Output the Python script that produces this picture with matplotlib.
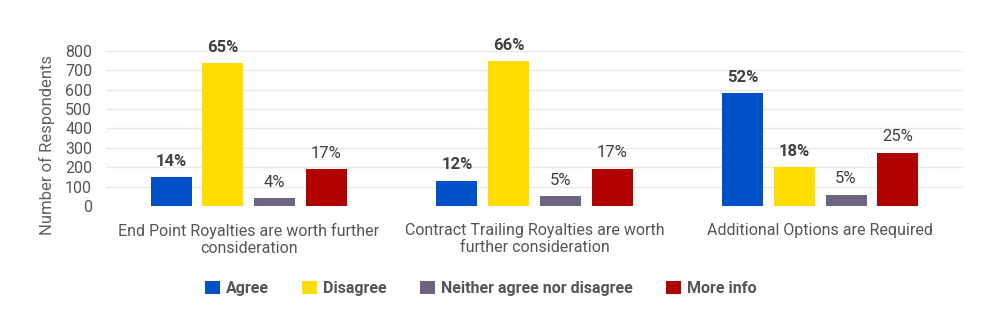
import numpy as np
import matplotlib.pyplot as plt

# Data
categories = ['End Point Royalties are worth further\nconsideration',
              'Contract Trailing Royalties are worth\nfurther consideration',
              'Additional Options are Required']
series = ['Agree', 'Disagree', 'Neither agree nor disagree', 'More info']
agree = [150, 130, 583]
disagree = [737, 745, 200]
neither = [40, 50, 58]
more_info = [190, 193, 275]
pct_agree = ['14%', '12%', '52%']
pct_disagree = ['65%', '66%', '18%']
pct_neither = ['4%', '5%', '5%']
pct_more = ['17%', '17%', '25%']

colors = ['#0050C8', '#FFDD00', '#6E6480', '#B00000']
values = [agree, disagree, neither, more_info]
pcts = [pct_agree, pct_disagree, pct_neither, pct_more]
weights = ['bold', 'bold', 'normal', 'normal']

plt.rcParams['font.family'] = ['Roboto', 'DejaVu Sans']
text_color = '#404040'
label_color = '#555555'

fig = plt.figure(figsize=(10, 3.3), dpi=100)
ax = fig.add_axes([0.106, 0.376, 0.857, 0.47])

x = np.arange(len(categories))
pitch = 0.181
width = 0.1436
for i, (vals, lab, col) in enumerate(zip(values, series, colors)):
    pos = x + (i - 1.5) * pitch
    bars = ax.bar(pos, vals, width, color=col, label=lab, zorder=3)
    for b, p in zip(bars, pcts[i]):
        ax.annotate(p, (b.get_x() + b.get_width() / 2, b.get_height()),
                    xytext=(0, 6), textcoords='offset points',
                    ha='center', va='bottom', fontsize=12,
                    fontweight=weights[i], color=text_color)

ax.set_xlim(-0.5, 2.5)
ax.set_ylim(0, 800)
ax.set_yticks(range(0, 801, 100))
ax.set_xticks(x)
ax.set_xticklabels(categories, fontsize=11.5, color=label_color)
ax.tick_params(axis='y', labelsize=11.5, labelcolor=label_color, length=0, pad=10)
ax.tick_params(axis='x', length=0, pad=12)
ax.grid(axis='y', color='#e8e8e8', linewidth=1, zorder=0)
for s in ax.spines.values():
    s.set_visible(False)
ax.set_ylabel('Number of Respondents', fontsize=12, color='#606060')
ax.yaxis.set_label_coords(-0.06, 0.39)

leg = fig.legend(loc='center', bbox_to_anchor=(0.481, 0.125), ncol=4, frameon=False,
                 handlelength=0.9, handleheight=0.9, handletextpad=0.4, columnspacing=2.1,
                 prop={'size': 11.5, 'weight': 'bold'})
for t in leg.get_texts():
    t.set_color(label_color)

fig.savefig('out.png', dpi=100, facecolor='white')
